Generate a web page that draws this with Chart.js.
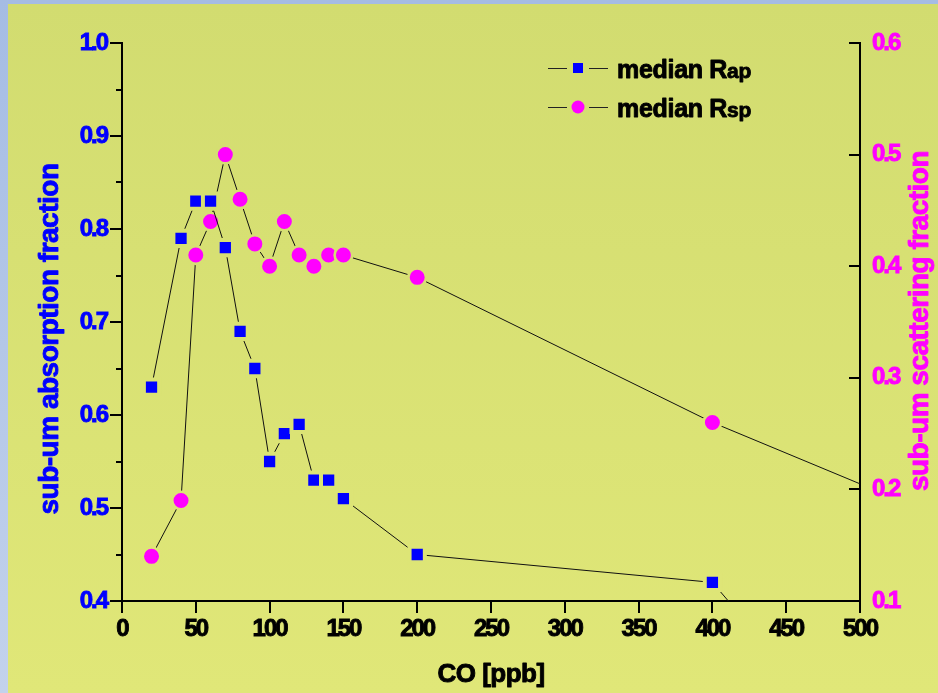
<!DOCTYPE html>
<html>
<head>
<meta charset="utf-8">
<script src="https://cdn.jsdelivr.net/npm/chart.js@4.4.1/dist/chart.umd.min.js"></script>
<style>
  html, body { margin: 0; padding: 0; background: #a6bde4; overflow: hidden; }
  canvas { display: block; }
</style>
</head>
<body>
<canvas id="c" width="938" height="693"></canvas>
<script>
// CO bins and the median fractions per bin (last entry lies past the x range)
var co  = [20, 40, 50, 60, 70, 80, 90, 100, 110, 120, 130, 140, 150, 200, 400, 600];
var rap = [0.63, 0.79, 0.83, 0.83, 0.78, 0.69, 0.65, 0.55, 0.58, 0.59, 0.53, 0.53, 0.51, 0.45, 0.42, 0.05];
var rsp = [0.14, 0.19, 0.41, 0.44, 0.50, 0.46, 0.42, 0.40, 0.44, 0.41, 0.40, 0.41, 0.41, 0.39, 0.26, 0.15];

var xTicks     = [0, 50, 100, 150, 200, 250, 300, 350, 400, 450, 500];
var leftTicks  = [0.4, 0.5, 0.6, 0.7, 0.8, 0.9, 1.0];
var rightTicks = [0.1, 0.2, 0.3, 0.4, 0.5, 0.6];

var FONT = "'Liberation Sans', Arial, sans-serif";
var BLUE = '#0000ff', PINK = '#ff00ff';

function pairs(xs, ys) {
  return xs.map(function(x, i) { return { x: x, y: ys[i] }; });
}

// panel colour at a given canvas row, used for the gap round each marker
function panelColor(py) {
  var t = Math.max(0, Math.min(1, py / 693));
  var r = Math.round(210 + 14 * t), g = Math.round(220 + 11 * t), b = Math.round(112 + 8 * t);
  return 'rgb(' + r + ',' + g + ',' + b + ')';
}
function haloFor(axisId) {
  return function(ctx) {
    if (!ctx.parsed) return panelColor(300);
    var sc = ctx.chart.scales[axisId];
    return panelColor(sc ? sc.getPixelForValue(ctx.parsed.y) : 300);
  };
}

var backdrop = {
  id: 'backdrop',
  beforeDraw: function(chart) {
    var ctx = chart.ctx;
    ctx.save();
    var edge = ctx.createLinearGradient(0, 0, 0, 693);
    edge.addColorStop(0, '#a5bce4');
    edge.addColorStop(1, '#c3d2ec');
    ctx.fillStyle = edge;
    ctx.fillRect(0, 0, 938, 693);
    var panel = ctx.createLinearGradient(0, 4, 0, 693);
    panel.addColorStop(0, panelColor(0));
    panel.addColorStop(1, panelColor(693));
    ctx.fillStyle = panel;
    ctx.fillRect(8, 4, 930, 689);
    ctx.restore();
    // tight tick lettering
    ctx.letterSpacing = '-2px';
  }
};

// filled text with a thin outline in the same colour for a heavier weight
function heavyText(ctx, text, x, y) {
  ctx.lineWidth = 0.9;
  ctx.lineJoin = 'round';
  ctx.strokeStyle = ctx.fillStyle;
  ctx.fillText(text, x, y);
  ctx.strokeText(text, x, y);
}

function rotatedText(ctx, text, x, y) {
  ctx.save();
  ctx.translate(x, y);
  ctx.rotate(-Math.PI / 2);
  heavyText(ctx, text, 0, 0);
  ctx.restore();
}

var axisMarks = {
  id: 'axisMarks',
  afterDraw: function(chart) {
    var ctx = chart.ctx, a = chart.chartArea, s = chart.scales;
    ctx.save();
    ctx.strokeStyle = '#000';
    ctx.lineWidth = 2;
    ctx.beginPath();
    xTicks.forEach(function(v) {
      var px = Math.round(s.x.getPixelForValue(v));
      ctx.moveTo(px, a.bottom);
      ctx.lineTo(px, a.bottom + 12);
    });
    leftTicks.forEach(function(v, i) {
      var py = Math.round(s.y.getPixelForValue(v));
      ctx.moveTo(a.left - 12, py);
      ctx.lineTo(a.left, py);
      if (i > 0) {
        var pm = Math.round(s.y.getPixelForValue((v + leftTicks[i - 1]) / 2));
        ctx.moveTo(a.left - 6, pm);
        ctx.lineTo(a.left, pm);
      }
    });
    rightTicks.forEach(function(v) {
      var py = Math.round(s.y2.getPixelForValue(v));
      ctx.moveTo(a.right - 11, py);
      ctx.lineTo(a.right, py);
    });
    ctx.stroke();

    // axis titles
    ctx.letterSpacing = '-0.5px';
    ctx.textAlign = 'center';
    ctx.textBaseline = 'alphabetic';
    ctx.font = 'bold 26px ' + FONT;
    ctx.fillStyle = '#000';
    heavyText(ctx, 'CO [ppb]', (a.left + a.right) / 2, 682);
    ctx.font = 'bold 28px ' + FONT;
    ctx.fillStyle = BLUE;
    rotatedText(ctx, 'sub-um absorption fraction', 58, 339);
    ctx.fillStyle = PINK;
    rotatedText(ctx, 'sub-um scattering fraction', 928, 321);

    // legend: line - marker - line, then label with smaller suffix
    var rows = [
      { y: 68, main: 'median R', sub: 'ap', ds: chart.data.datasets[0] },
      { y: 107, main: 'median R', sub: 'sp', ds: chart.data.datasets[1] }
    ];
    rows.forEach(function(r) {
      ctx.strokeStyle = '#222';
      ctx.lineWidth = 1;
      ctx.beginPath();
      ctx.moveTo(548, r.y + 0.5); ctx.lineTo(567, r.y + 0.5);
      ctx.moveTo(589, r.y + 0.5); ctx.lineTo(608, r.y + 0.5);
      ctx.stroke();
      ctx.fillStyle = r.ds.pointBackgroundColor;
      ctx.beginPath();
      if (r.ds.pointStyle === 'rect') ctx.rect(573, r.y - 5, 10, 10);
      else ctx.arc(578, r.y, 6.5, 0, Math.PI * 2);
      ctx.fill();
      ctx.fillStyle = '#000';
      ctx.textAlign = 'left';
      ctx.letterSpacing = '-0.3px';
      ctx.font = 'bold 25px ' + FONT;
      heavyText(ctx, r.main, 617, r.y + 10);
      var w = ctx.measureText(r.main).width;
      ctx.font = 'bold 21px ' + FONT;
      heavyText(ctx, r.sub, 617 + w, r.y + 10);
    });
    ctx.restore();
  }
};

function fixedTicks(list) {
  return function(scale) {
    scale.ticks = list.map(function(v) { return { value: v }; });
  };
}

var tickFont = { family: FONT, size: 24, weight: 'bold' };

new Chart(document.getElementById('c'), {
  type: 'scatter',
  data: {
    datasets: [
      {
        label: 'median Rap',
        data: pairs(co, rap),
        yAxisID: 'y',
        showLine: true,
        borderColor: '#111',
        borderWidth: 1,
        pointStyle: 'rect',
        pointRadius: 10.8,
        pointBackgroundColor: BLUE,
        pointBorderColor: haloFor('y'),
        pointBorderWidth: 4
      },
      {
        label: 'median Rsp',
        data: pairs(co, rsp),
        yAxisID: 'y2',
        showLine: true,
        borderColor: '#111',
        borderWidth: 1,
        pointStyle: 'circle',
        pointRadius: 8.8,
        pointBackgroundColor: PINK,
        pointBorderColor: haloFor('y2'),
        pointBorderWidth: 2.6
      }
    ]
  },
  options: {
    responsive: false,
    animation: false,
    events: [],
    layout: { padding: { top: 43, left: 0, right: 0, bottom: 0 } },
    plugins: { legend: { display: false }, tooltip: { enabled: false } },
    scales: {
      x: {
        type: 'linear', position: 'bottom', min: 0, max: 500,
        afterBuildTicks: fixedTicks(xTicks),
        afterFit: function(s) { s.height = 92; },
        grid: { display: false, drawTicks: false },
        border: { color: '#000', width: 2 },
        ticks: {
          color: '#000', font: tickFont, padding: 14, maxRotation: 0, autoSkip: false,
          textStrokeColor: '#000', textStrokeWidth: 0.9,
          callback: function(v) { return String(v); }
        }
      },
      y: {
        type: 'linear', position: 'left', min: 0.4, max: 1.0,
        afterBuildTicks: fixedTicks(leftTicks),
        afterFit: function(s) { s.width = 122; },
        grid: { display: false, drawTicks: false },
        border: { color: '#000', width: 2 },
        ticks: {
          color: BLUE, font: tickFont, padding: 15, autoSkip: false,
          textStrokeColor: BLUE, textStrokeWidth: 0.9,
          callback: function(v) { return v.toFixed(1); }
        }
      },
      y2: {
        type: 'linear', position: 'right', min: 0.1, max: 0.6,
        afterBuildTicks: fixedTicks(rightTicks),
        afterFit: function(s) { s.width = 78; },
        grid: { display: false, drawTicks: false },
        border: { color: '#000', width: 2 },
        ticks: {
          color: PINK, font: tickFont, padding: 12, autoSkip: false,
          textStrokeColor: PINK, textStrokeWidth: 0.9,
          callback: function(v) { return v.toFixed(1); }
        }
      }
    }
  },
  plugins: [backdrop, axisMarks]
});
</script>
</body>
</html>
